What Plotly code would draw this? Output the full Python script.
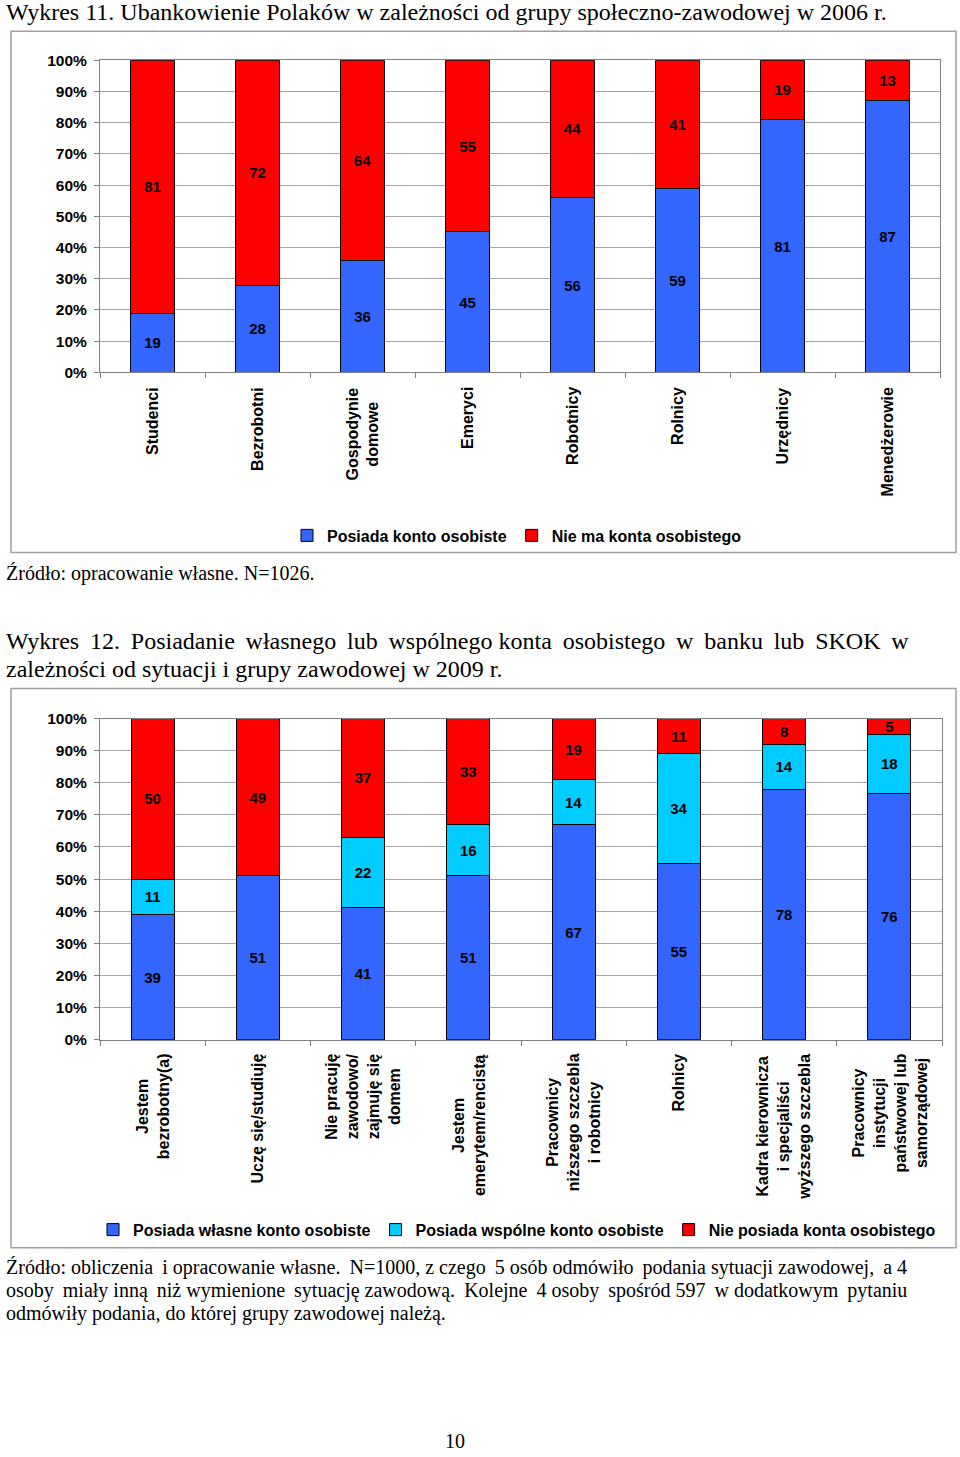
import plotly.graph_objects as go

W, H = 960, 1457

# ---------------- data ----------------
cats1 = ["Studenci", "Bezrobotni", "Gospodynie<br>domowe", "Emeryci",
         "Robotnicy", "Rolnicy", "Urzędnicy", "Menedżerowie"]
has_account_2006 = [19, 28, 36, 45, 56, 59, 81, 87]
no_account_2006 = [81, 72, 64, 55, 44, 41, 19, 13]

cats2 = ["Jestem<br>bezrobotny(a)", "Uczę się/studiuję",
         "Nie pracuję<br>zawodowo/<br>zajmuję się<br>domem",
         "Jestem<br>emerytem/rencistą",
         "Pracownicy<br>niższego szczebla<br>i robotnicy", "Rolnicy",
         "Kadra kierownicza<br>i specjaliści<br>wyższego szczebla",
         "Pracownicy<br>instytucji<br>państwowej lub<br>samorządowej"]
own_2009 = [39, 51, 41, 51, 67, 55, 78, 76]
joint_2009 = [11, 0, 22, 16, 14, 34, 14, 18]
none_2009 = [50, 49, 37, 33, 19, 11, 8, 5]

yticks = list(range(0, 101, 10))
ytick_labels = [f"{v}%" for v in yticks]

# ---------------- helpers ----------------
def px(x):
    return x / W

def py(y):
    # page pixel (from top) -> paper fraction, with a small vertical calibration
    y = (y - 8.7) / 0.988
    y = min(max(y, 0), H)
    return 1 - y / H

SANS = "Liberation Sans"
SERIF = "Liberation Serif"
BLUE, RED, CYAN = "#3366FF", "#FF0000", "#00CCFF"
THIN = "\u2009"

def lbl(vals):
    return [str(v) if v else "" for v in vals]

def justify(line, n_extra):
    """Widen a line (like justified text) by adding thin spaces in some gaps."""
    words = line.split(" ")
    gaps = len(words) - 1
    chosen = set()
    if n_extra > 0:
        for k in range(n_extra):
            chosen.add(int(round((k + 0.5) * gaps / n_extra - 0.5)))
    out = words[0]
    for i, w in enumerate(words[1:]):
        out += " " + (THIN if i in chosen else "") + w
    return out

fig = go.Figure()

def add_bar(x, y, name, color, xa, ya, legend):
    fig.add_trace(go.Bar(
        x=x, y=y, name=name, xaxis=xa, yaxis=ya, legend=legend,
        marker=dict(color=color, line=dict(color="#000000", width=1)),
        text=lbl(y), texttemplate="%{text}", textposition="inside",
        insidetextanchor="middle", textangle=0,
        textfont=dict(family=SANS, size=15, color="#000000", weight="bold"),
        hoverinfo="skip"))

add_bar(cats1, has_account_2006, "Posiada konto osobiste", BLUE, "x", "y", "legend")
add_bar(cats1, no_account_2006, "Nie ma konta osobistego", RED, "x", "y", "legend")

add_bar(cats2, own_2009, "Posiada własne konto osobiste", BLUE, "x2", "y2", "legend2")
add_bar(cats2, joint_2009, "Posiada wspólne konto osobiste", CYAN, "x2", "y2", "legend2")
add_bar(cats2, none_2009, "Nie posiada konta osobistego", RED, "x2", "y2", "legend2")

axis_common_x = dict(showticklabels=False, ticks="outside", tickson="boundaries",
                     ticklen=5, tickcolor="#808080", showline=True,
                     linecolor="#808080", linewidth=1, mirror=True,
                     showgrid=False, zeroline=False, type="category")
axis_common_y = dict(range=[0, 100], tickvals=yticks, ticktext=ytick_labels,
                     ticks="outside", ticklen=5, tickcolor="#808080",
                     ticklabelstandoff=4,
                     tickfont=dict(family=SANS, size=15.5, color="#000000", weight="bold"),
                     showline=True, linecolor="#808080", linewidth=1, mirror=True,
                     showgrid=True, gridcolor="#A6A6A6", gridwidth=1, zeroline=False)

legend_common = dict(orientation="h", xanchor="center", yanchor="middle",
                     itemwidth=30, traceorder="normal", bgcolor="rgba(0,0,0,0)",
                     font=dict(family=SANS, size=16, color="#000000", weight="bold"),
                     itemclick=False, itemdoubleclick=False)

fig.update_layout(
    width=W, height=H, margin=dict(l=0, r=0, t=0, b=0),
    paper_bgcolor="white", plot_bgcolor="white",
    barmode="stack", barnorm="percent", bargap=0.59,
    uniformtext=dict(minsize=15, mode="show"),
    xaxis=dict(domain=[px(100), px(940)], anchor="y", **axis_common_x),
    yaxis=dict(domain=[py(372), py(60)], anchor="x", **axis_common_y),
    xaxis2=dict(domain=[px(100), px(942)], anchor="y2", **axis_common_x),
    yaxis2=dict(domain=[py(1039), py(718)], anchor="x2", **axis_common_y),
    legend=dict(x=px(517), y=py(535), **legend_common),
    legend2=dict(x=px(517), y=py(1229), **legend_common),
    showlegend=True,
)

# outer chart frames
for (x0, y0, x1, y1) in [(11, 31, 956, 552), (11, 688, 956, 1247)]:
    fig.add_shape(type="rect", xref="paper", yref="paper",
                  x0=px(x0), x1=px(x1), y0=py(y1), y1=py(y0),
                  line=dict(color="#A0A0A0", width=1.5), fillcolor="rgba(0,0,0,0)",
                  layer="below")

# rotated category labels
for cats, xa, top in [(cats1, "x", 385), (cats2, "x2", 1051)]:
    for c in cats:
        fig.add_annotation(x=c, xref=xa, y=py(top), yref="paper",
                           text=c, textangle=-90, showarrow=False,
                           xanchor="center", yanchor="top", align="center",
                           font=dict(family=SANS, size=16, color="#000000", weight="bold"))

# page texts
page_texts = [
    ("Wykres 11. Ubankowienie Polaków w zależności od grupy społeczno-zawodowej w 2006 r.", 4, 12, 24, "left"),
    ("Źródło: opracowanie własne. N=1026.", 4, 573, 20, "left"),
    (justify("Wykres 12. Posiadanie własnego lub wspólnego konta osobistego w banku lub SKOK w", 11), 4, 640, 24, "left"),
    ("zależności od sytuacji i grupy zawodowej w 2009 r.", 4, 668, 24, "left"),
    (justify("Źródło: obliczenia i opracowanie własne. N=1000, z czego 5 osób odmówiło podania sytuacji zawodowej, a 4", 5), 4, 1267, 20, "left"),
    (justify("osoby miały inną niż wymienione sytuację zawodową. Kolejne 4 osoby spośród 597 w dodatkowym pytaniu", 8), 4, 1290, 20, "left"),
    ("odmówiły podania, do której grupy zawodowej należą.", 4, 1313, 20, "left"),
    ("10", 455, 1440, 20, "center"),
]
for t, x, y, s, anc in page_texts:
    fig.add_annotation(x=px(x), y=py(y), xref="paper", yref="paper", text=t,
                       showarrow=False, xanchor=anc, yanchor="middle",
                       font=dict(family=SERIF, size=s, color="#000000"))

post = (
    "var d=document.getElementById('{plot_id}');"
    "var h=document.documentElement, b=document.body;"
    "[h,b].forEach(function(e){e.style.margin='0';e.style.padding='0';"
    "e.style.overflow='hidden';e.style.height='1457px';});"
    "d.style.position='absolute';d.style.top='0px';d.style.left='0px';"
)
fig.write_html("out.html", config={"displayModeBar": False}, post_script=post)
